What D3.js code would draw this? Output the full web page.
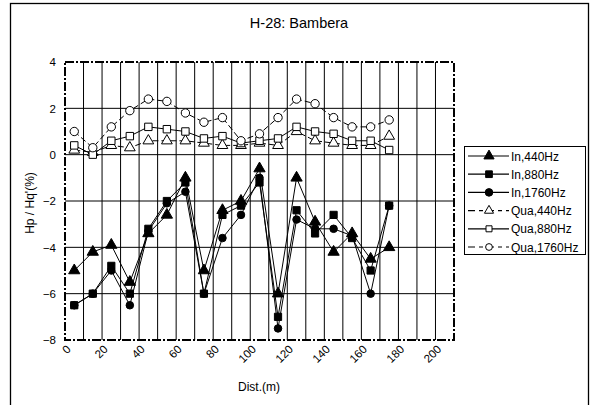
<!DOCTYPE html>
<html>
<head>
<meta charset="utf-8">
<script src="https://cdn.jsdelivr.net/npm/d3@7"></script>
<style>
  body { margin: 0; background: #fff; }
  text { font-family: "Liberation Sans", Arial, sans-serif; fill: #000; }
</style>
</head>
<body>
<svg id="chart" width="591" height="405"></svg>
<script>
// distances (m)
const dist = [5, 15, 25, 35, 45, 55, 65, 75, 85, 95, 105, 115, 125, 135, 145, 155, 165, 175];

const in440   = [-5.0, -4.2, -3.9, -5.5, -3.4, -2.6, -1.0, -5.0, -2.4, -2.0, -0.6, -6.0, -1.0, -2.9, -4.2, -3.4, -4.5, -4.0];
const in880   = [-6.5, -6.0, -4.8, -6.0, -3.2, -2.0, -1.2, -6.0, -2.6, -2.2, -1.2, -7.0, -2.4, -3.4, -2.6, -3.6, -5.0, -2.2];
const in1760  = [-6.5, -6.0, -5.0, -6.5, -3.3, -2.1, -1.6, -6.0, -3.6, -2.6, -1.0, -7.5, -2.8, -3.2, -3.2, -3.5, -6.0, -2.2];
const qua440  = [0.2, 0.1, 0.4, 0.3, 0.6, 0.6, 0.6, 0.5, 0.4, 0.4, 0.5, 0.4, 1.0, 0.6, 0.5, 0.4, 0.4, 0.8];
const qua880  = [0.4, 0.0, 0.6, 0.8, 1.2, 1.1, 1.0, 0.7, 0.8, 0.5, 0.6, 0.7, 1.2, 1.0, 0.9, 0.6, 0.6, 0.2];
const qua1760 = [1.0, 0.3, 1.2, 1.9, 2.4, 2.3, 1.8, 1.4, 1.6, 0.6, 0.9, 1.6, 2.4, 2.2, 1.6, 1.2, 1.2, 1.5];

const xTicks = [0, 20, 40, 60, 80, 100, 120, 140, 160, 180, 200];
const yTicks = [-8, -6, -4, -2, 0, 2, 4];

const series = [
  {name: "In,440Hz",    values: in440,   sym: d3.symbolTriangle, size: 55, open: false, dash: null},
  {name: "In,880Hz",    values: in880,   sym: d3.symbolSquare,   size: 52, open: false, dash: null},
  {name: "In,1760Hz",   values: in1760,  sym: d3.symbolCircle,   size: 45, open: false, dash: null},
  {name: "Qua,440Hz",   values: qua440,  sym: d3.symbolTriangle, size: 50, open: true,  dash: "6,3"},
  {name: "Qua,880Hz",   values: qua880,  sym: d3.symbolSquare,   size: 55, open: true,  dash: null},
  {name: "Qua,1760Hz",  values: qua1760, sym: d3.symbolCircle,   size: 55, open: true,  dash: "6,3"}
];

const svg = d3.select("#chart");
const plot = {left: 65, right: 454, top: 62, bottom: 340};

const x = d3.scaleLinear().domain([0, 210]).range([plot.left, plot.right]);
const y = d3.scaleLinear().domain([-8, 4]).range([plot.bottom, plot.top]);

// outer frame
svg.append("rect")
  .attr("x", 10.5).attr("y", 3.5).attr("width", 578).attr("height", 420)
  .attr("fill", "none").attr("stroke", "#000").attr("stroke-width", 1.3);

// title
svg.append("text")
  .attr("x", 299).attr("y", 28)
  .attr("text-anchor", "middle")
  .style("font-size", "14.5px")
  .text("H-28: Bambera");

// grid
const grid = svg.append("g");
grid.selectAll(".vg")
  .data(d3.range(10, 210, 10))
  .enter().append("line")
  .attr("x1", d => x(d)).attr("x2", d => x(d))
  .attr("y1", plot.top).attr("y2", plot.bottom)
  .attr("stroke", "#000").attr("stroke-width", 1);
grid.selectAll(".hg")
  .data(yTicks.slice(1, -1))
  .enter().append("line")
  .attr("x1", plot.left).attr("x2", plot.right)
  .attr("y1", d => y(d)).attr("y2", d => y(d))
  .attr("stroke", "#000").attr("stroke-width", 1);

// plot border
svg.append("rect")
  .attr("x", plot.left).attr("y", plot.top)
  .attr("width", plot.right - plot.left).attr("height", plot.bottom - plot.top)
  .attr("fill", "none").attr("stroke", "#000").attr("stroke-width", 2)
  .attr("stroke-dasharray", "9,2,2,2");

// axes
const xAxis = svg.append("g")
  .attr("transform", "translate(0," + plot.bottom + ")")
  .call(d3.axisBottom(x).tickValues(xTicks).tickSize(0).tickPadding(0));
xAxis.select(".domain").remove();
xAxis.selectAll("text")
  .style("font-size", "11.5px")
  .style("font-family", "Liberation Sans, Arial, sans-serif")
  .attr("text-anchor", "end")
  .attr("dy", null).attr("y", 0)
  .attr("transform", "translate(6,10) rotate(-45)");

const yAxis = svg.append("g")
  .attr("transform", "translate(" + plot.left + ",0)")
  .call(d3.axisLeft(y).tickValues(yTicks).tickSize(0).tickPadding(9));
yAxis.select(".domain").remove();
yAxis.selectAll("text")
  .style("font-size", "11.5px")
  .style("font-family", "Liberation Sans, Arial, sans-serif");

// axis titles
svg.append("text")
  .attr("x", 259).attr("y", 391)
  .attr("text-anchor", "middle")
  .style("font-size", "12px")
  .text("Dist.(m)");
svg.append("text")
  .attr("transform", "translate(34,203) rotate(-90)")
  .attr("text-anchor", "middle")
  .style("font-size", "12px")
  .text("Hp / Hq'(%)");

// series
const line = d3.line()
  .x((d, i) => x(dist[i]))
  .y(d => y(d));

series.forEach(s => {
  const g = svg.append("g");
  g.append("path")
    .datum(s.values)
    .attr("d", line)
    .attr("fill", "none")
    .attr("stroke", "#000")
    .attr("stroke-width", 1)
    .attr("stroke-dasharray", s.dash);
  g.selectAll("path.m")
    .data(s.values)
    .enter().append("path")
    .attr("class", "m")
    .attr("transform", (d, i) => "translate(" + x(dist[i]) + "," + y(d) + ")")
    .attr("d", d3.symbol().type(s.sym).size(s.size))
    .attr("fill", s.open ? "#fff" : "#000")
    .attr("stroke", "#000")
    .attr("stroke-width", 1);
});

// legend
const leg = svg.append("g");
leg.append("rect")
  .attr("x", 464.5).attr("y", 146.5).attr("width", 121).attr("height", 108)
  .attr("fill", "#fff").attr("stroke", "#000").attr("stroke-width", 1);

series.forEach((s, i) => {
  const ly = 156 + i * 18.2;
  leg.append("line")
    .attr("x1", 468).attr("x2", 509)
    .attr("y1", ly).attr("y2", ly)
    .attr("stroke", "#000").attr("stroke-width", 1.2)
    .attr("stroke-dasharray", s.dash ? "7,4,4,4" : null);
  leg.append("path")
    .attr("transform", "translate(489," + ly + ")")
    .attr("d", d3.symbol().type(s.sym).size(s.open ? 36 : 45))
    .attr("fill", s.open ? "#fff" : "#000")
    .attr("stroke", "#000");
  leg.append("text")
    .attr("x", 511).attr("y", ly + 4.5)
    .style("font-size", "12px")
    .text(s.name);
});
</script>
</body>
</html>
